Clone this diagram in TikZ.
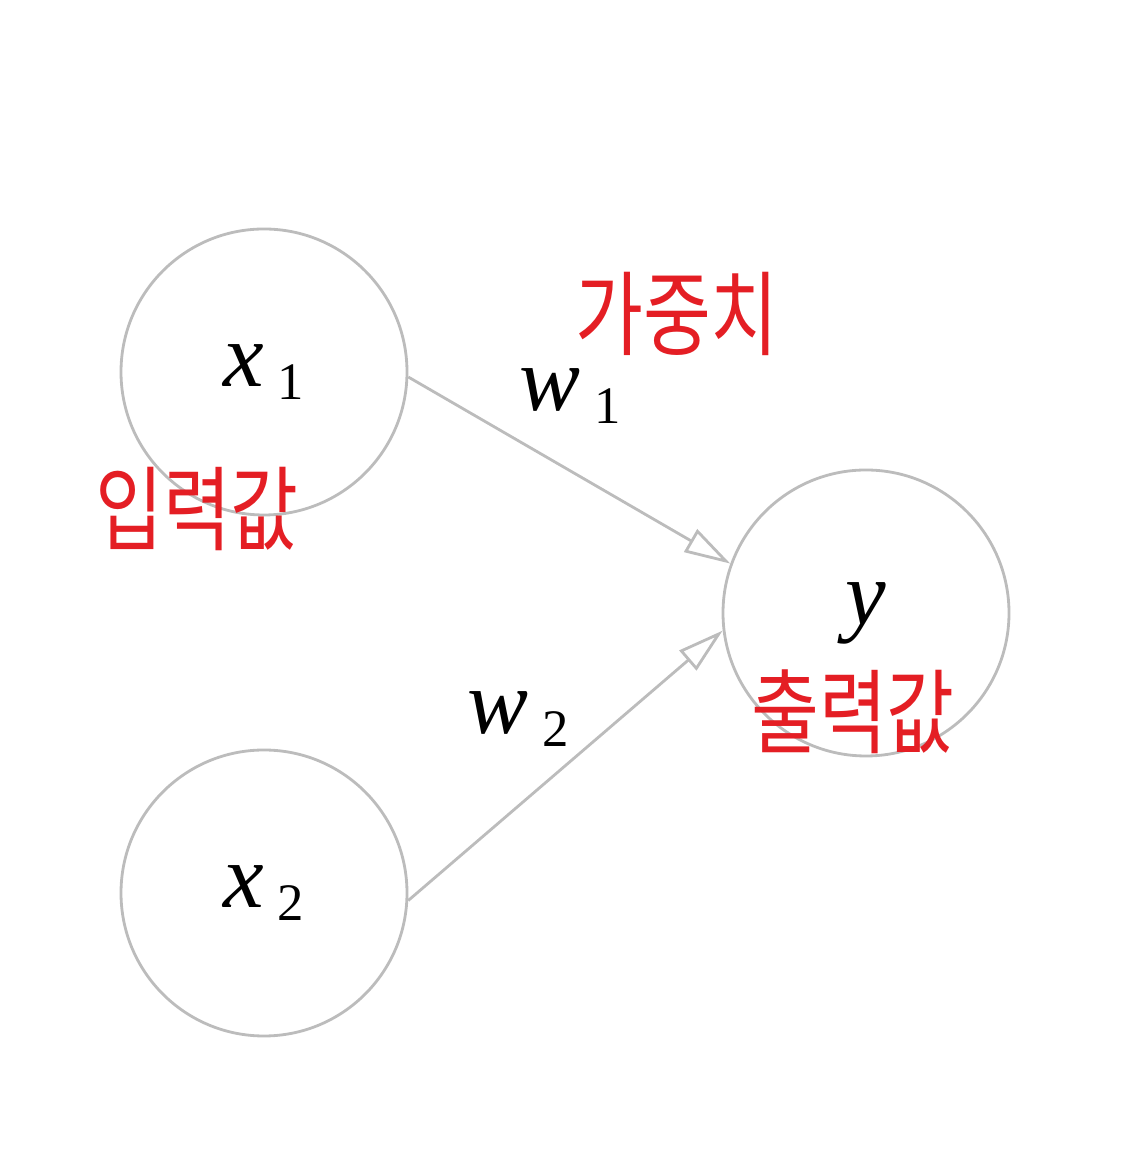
\documentclass[tikz,border=0pt]{standalone}
\usepackage{fontspec}
\setmainfont{Liberation Serif}
\newfontfamily\hangul{Noto Sans CJK KR}
\usetikzlibrary{arrows.meta,positioning}
\definecolor{circlecolor}{RGB}{188,188,188}
\definecolor{edgecolor}{RGB}{188,188,188}
\definecolor{notecolor}{RGB}{228,30,36}
% variable with a lowered index
\newcommand{\var}[2]{{\itshape #1}\hspace{0.15em}\raisebox{-0.3ex}{\fontsize{15}{16}\selectfont #2}}
\tikzset{
    neuron/.style={
        circle,
        minimum size=2.86cm,
        inner sep=0pt,
        draw=circlecolor,
        line width=0.8pt,
        font=\fontsize{26}{28}\selectfont
    },
    weight/.style={font=\fontsize{26}{28}\selectfont},
    note/.style={font=\hangul\fontsize{21}{24}\selectfont, text=notecolor, yscale=1.25},
    arrow/.style={-{Triangle[open, length=4.6mm, width=2.6mm]}, line width=0.8pt, color=edgecolor}
}
\begin{document}
\begin{tikzpicture}
    \useasboundingbox (0,0) rectangle (11.44,11.64);
    
    % Input nodes
    \node[neuron] (x1) at (2.64,7.92) {\var{x}{1}};
    \node[neuron] (x2) at (2.64,2.71) {\var{x}{2}};
    
    % Output node
    \node[neuron] (y) at (8.66,5.51) {\itshape y};
    
    % Arrows
    \draw[arrow] (x1.-2) -- (y.160);
    \draw[arrow] (x2.-3) -- (y.187);
    
    % Weights
    \node[weight] (w1) at (5.70,7.68) {\var{w}{1}};
    \node[weight] (w2) at (5.18,4.45) {\var{w}{2}};
    
    % Handwritten notes
    \node[note] (in) at (1.97,6.55) {입력값};
    \node[note] (wt) at (6.77,8.50) {가중치};
    \node[note] (out) at (8.53,4.52) {출력값};
\end{tikzpicture}
\end{document}
